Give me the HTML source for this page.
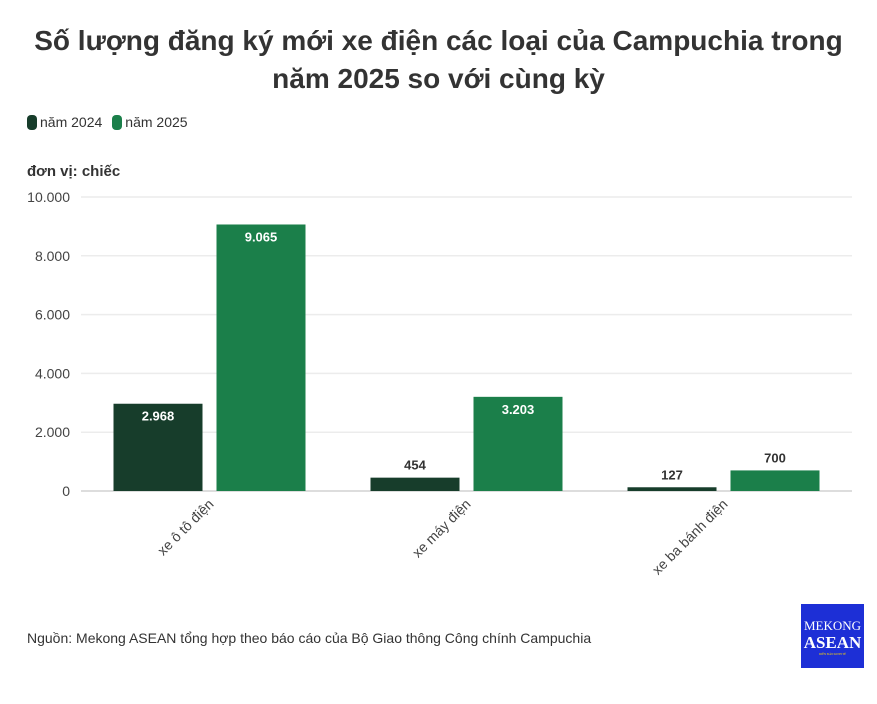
<!DOCTYPE html>
<html><head><meta charset="utf-8"><style>
body{margin:0;width:877px;height:704px;background:#fff;font-family:"Liberation Sans",sans-serif;overflow:hidden;position:relative}
.title{position:absolute;left:0;width:877px;top:22px;text-align:center;font-size:28px;font-weight:bold;color:#333;line-height:38px}
.legend{position:absolute;left:27px;top:114px;font-size:14px;color:#333;display:flex;gap:10px}
.legend span.sw{display:inline-block;width:10px;height:15px;border-radius:4px;vertical-align:-3px;margin-right:3px}
.unit{position:absolute;left:27px;top:163px;font-size:15px;font-weight:bold;color:#333}
.src{position:absolute;left:27px;top:630px;font-size:14px;color:#333}
.logo{position:absolute;left:801px;top:604px;width:63px;height:64px;background:#1d2fd6;color:#fff;font-family:"Liberation Serif",serif;text-align:center}
</style></head><body>
<div class="title">Số lượng đăng ký mới xe điện các loại của Campuchia trong<br>năm 2025 so với cùng kỳ</div>
<div class="legend">
<div><span class="sw" style="background:#173d2b"></span>năm 2024</div>
<div><span class="sw" style="background:#1b7f4a"></span>năm 2025</div>
</div>
<div class="unit">đơn vị: chiếc</div>
<svg id="chart" width="877" height="704" style="position:absolute;left:0;top:0"></svg>
<div class="src">Nguồn: Mekong ASEAN tổng hợp theo báo cáo của Bộ Giao thông Công chính Campuchia</div>
<div class="logo"><div style="font-size:13px;margin-top:14px">MEKONG</div><div style="font-size:17px;font-weight:bold;line-height:18px">ASEAN</div><div style="font-size:3px;color:#ffd700">DIỄN ĐÀN KINH TẾ</div></div>
<script>
const categories=["xe ô tô điện","xe máy điện","xe ba bánh điện"];
const values2024=[2968,454,127];
const values2025=[9065,3203,700];
const labels2024=["2.968","454","127"];
const labels2025=["9.065","3.203","700"];
const ticks=[0,2000,4000,6000,8000,10000];
const tickLabels=["0","2.000","4.000","6.000","8.000","10.000"];
const svg=document.getElementById('chart');const NS='http://www.w3.org/2000/svg';
const x0=81,bw=257,yTop=197,yBot=491,max=10000;
const y=v=>yBot-(v/max)*(yBot-yTop);
function mk(t,a,txt){const e=document.createElementNS(NS,t);for(const k in a)e.setAttribute(k,a[k]);if(txt!=null)e.textContent=txt;svg.appendChild(e);return e;}
ticks.forEach((t,i)=>{
const g=mk('line',{x1:x0,x2:852,y1:y(t),y2:y(t),stroke:t===0?'#ddd':'#ececec','stroke-width':t===0?2:1.5});


const l=mk('text',{x:70,y:y(t)+5,'text-anchor':'end','font-size':14,fill:'#444','font-family':'Liberation Sans'},tickLabels[i]);


});
categories.forEach((c,i)=>{
const cx=x0+bw*i+bw/2;
[[values2024,labels2024,'#173d2b',cx-96,'2024'],[values2025,labels2025,'#1b7f4a',cx+7,'2025']].forEach(([vals,labs,col,bx,yr])=>{
const v=vals[i];
const r=mk('rect',{x:bx,y:y(v),width:89,height:yBot-y(v),fill:col});


const inside=(yBot-y(v))>40;
const t=mk('text',{x:bx+44.5,y:inside?y(v)+17:y(v)-8,'text-anchor':'middle','font-size':13,'font-weight':'bold',fill:inside?'#fff':'#333','font-family':'Liberation Sans'},labs[i]);


});
const lx=cx+5,ly=505;
const xl=mk('text',{x:lx,y:ly,'text-anchor':'end','font-size':14,fill:'#444','font-family':'Liberation Sans',transform:`rotate(-45 ${lx} ${ly})`},c);


});
</script>
</body></html>
